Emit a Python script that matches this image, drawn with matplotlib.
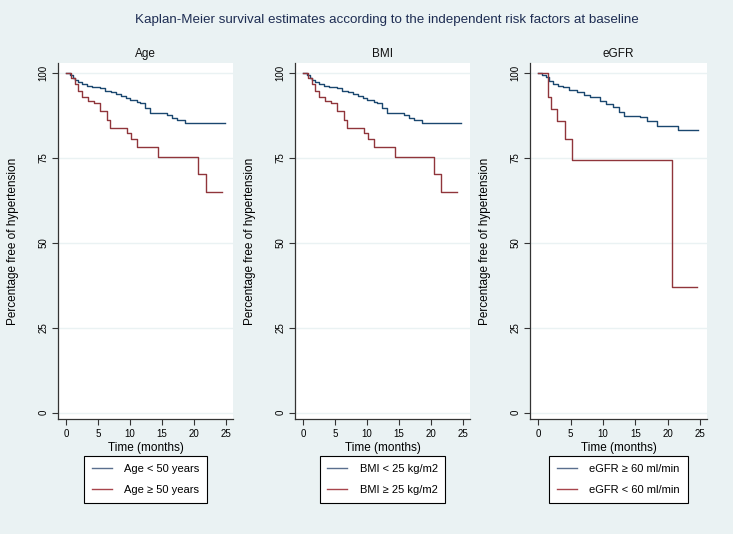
import matplotlib.pyplot as plt

plt.rcParams['font.family'] = ['Liberation Sans', 'DejaVu Sans']

# Kaplan-Meier step points (time in months, % free of hypertension)
age_lo_t = [0, 0.6, 1.0, 1.4, 1.8, 2.4, 3.2, 4.0, 5.2, 6.0, 7.0, 7.8, 8.6, 9.4, 10.0, 11.0, 11.6, 12.3, 13.1, 15.7, 16.5, 17.3, 18.6, 24.9]
age_lo_s = [100, 99.3, 98.6, 97.8, 97.2, 96.7, 96.2, 95.8, 95.4, 94.8, 94.3, 93.9, 93.2, 92.5, 92.0, 91.4, 91.0, 89.8, 88.2, 87.6, 86.8, 86.1, 85.3, 85.3]
age_hi_t = [0, 0.8, 1.3, 1.8, 2.4, 3.4, 4.4, 5.2, 6.3, 6.9, 9.5, 10.2, 11.1, 14.3, 20.6, 21.8, 24.4]
age_hi_s = [100, 98.5, 96.8, 94.8, 92.9, 91.8, 91.2, 88.8, 86.1, 83.8, 82.2, 80.4, 78.1, 75.3, 70.2, 65.0, 65.0]

bmi_lo_t = [0, 0.6, 1.0, 1.4, 1.8, 2.4, 3.2, 4.0, 5.2, 6.0, 7.0, 7.8, 8.6, 9.4, 10.0, 11.0, 11.6, 12.3, 13.1, 15.7, 16.5, 17.3, 18.6, 24.7]
bmi_lo_s = [100, 99.3, 98.6, 97.8, 97.2, 96.7, 96.2, 95.8, 95.4, 94.8, 94.3, 93.9, 93.2, 92.5, 92.0, 91.4, 91.0, 89.8, 88.2, 87.6, 86.8, 86.1, 85.3, 85.3]
bmi_hi_t = [0, 0.8, 1.3, 1.8, 2.4, 3.4, 4.4, 5.2, 6.3, 6.9, 9.5, 10.2, 11.1, 14.3, 20.4, 21.6, 24.0]
bmi_hi_s = [100, 98.5, 96.8, 94.8, 92.9, 91.8, 91.2, 88.8, 86.1, 83.8, 82.2, 80.4, 78.1, 75.3, 70.2, 65.0, 65.0]

egfr_hi_t = [0, 0.6, 1.2, 1.7, 2.2, 3.0, 3.8, 4.8, 5.9, 7.0, 8.0, 9.5, 10.5, 11.6, 12.4, 13.2, 15.8, 16.8, 18.4, 21.6, 24.7]
egfr_hi_s = [100, 99.4, 98.7, 97.6, 96.7, 96.2, 95.8, 95.0, 94.3, 93.5, 92.8, 91.8, 90.9, 89.9, 88.6, 87.4, 86.9, 85.7, 84.4, 83.2, 83.2]
egfr_lo_t = [0, 1.5, 2.0, 2.9, 4.1, 5.2, 20.7, 24.5]
egfr_lo_s = [100, 92.9, 89.3, 85.7, 80.4, 74.3, 37.1, 37.1]

panels = [
    ('Age', 58, 233, (age_lo_t, age_lo_s, 'Age < 50 years'), (age_hi_t, age_hi_s, 'Age ≥ 50 years')),
    ('BMI', 295, 470, (bmi_lo_t, bmi_lo_s, 'BMI < 25 kg/m2'), (bmi_hi_t, bmi_hi_s, 'BMI ≥ 25 kg/m2')),
    ('eGFR', 530, 707, (egfr_hi_t, egfr_hi_s, 'eGFR ≥ 60 ml/min'), (egfr_lo_t, egfr_lo_s, 'eGFR < 60 ml/min')),
]

bg = '#eaf2f3'
blue = '#1a476f'
red = '#90353b'
W, H = 733, 534

fig = plt.figure(figsize=(W / 100, H / 100), dpi=100, facecolor=bg)
fig.text(387 / W, 1 - 20 / H, 'Kaplan-Meier survival estimates according to the independent risk factors at baseline',
         ha='center', va='center', fontsize=9.6, color='#1e2d53')

top, bottom = 63, 419
for title, x0, x1, s1, s2 in panels:
    ax = fig.add_axes([x0 / W, 1 - bottom / H, (x1 - x0) / W, (bottom - top) / H])
    ax.set_facecolor('white')
    ax.step(s1[0], s1[1], where='post', color=blue, lw=1.0, label=s1[2])
    ax.step(s2[0], s2[1], where='post', color=red, lw=1.0, label=s2[2])
    ax.set_xlim(-1.3, 26.1)
    ax.set_ylim(-1.85, 102.9)
    ax.set_xticks([0, 5, 10, 15, 20, 25])
    ax.set_yticks([0, 25, 50, 75, 100])
    ax.set_yticklabels(['0', '25', '50', '75', '100'], rotation=90, va='center')
    ax.yaxis.grid(True, color=bg, lw=1.0)
    ax.set_axisbelow(True)
    for sp in ('top', 'right'):
        ax.spines[sp].set_visible(False)
    for sp in ('left', 'bottom'):
        ax.spines[sp].set_color('#333333')
        ax.spines[sp].set_linewidth(0.9)
    ax.tick_params(labelsize=7, length=4, width=0.8, color='#333333', pad=3)
    ax.set_title(title, fontsize=8.5, pad=4, color='#111111')
    ax.set_xlabel('Time (months)', fontsize=8.5, labelpad=2)
    ax.set_ylabel('Percentage free of hypertension', fontsize=8.5, labelpad=14)
    leg = ax.legend(loc='upper center', bbox_to_anchor=(0.5, -0.105), fontsize=8,
                    frameon=True, fancybox=False, edgecolor='black', framealpha=1,
                    handlelength=1.8, handletextpad=1.1, labelspacing=1.0,
                    borderpad=0.7, borderaxespad=0)
    leg.get_frame().set_linewidth(0.8)
    leg.get_lines()[0].set_color('#5a6f8e')
    leg.get_lines()[1].set_color('#a8454c')

fig.savefig('out.png', dpi=100, facecolor=bg)
